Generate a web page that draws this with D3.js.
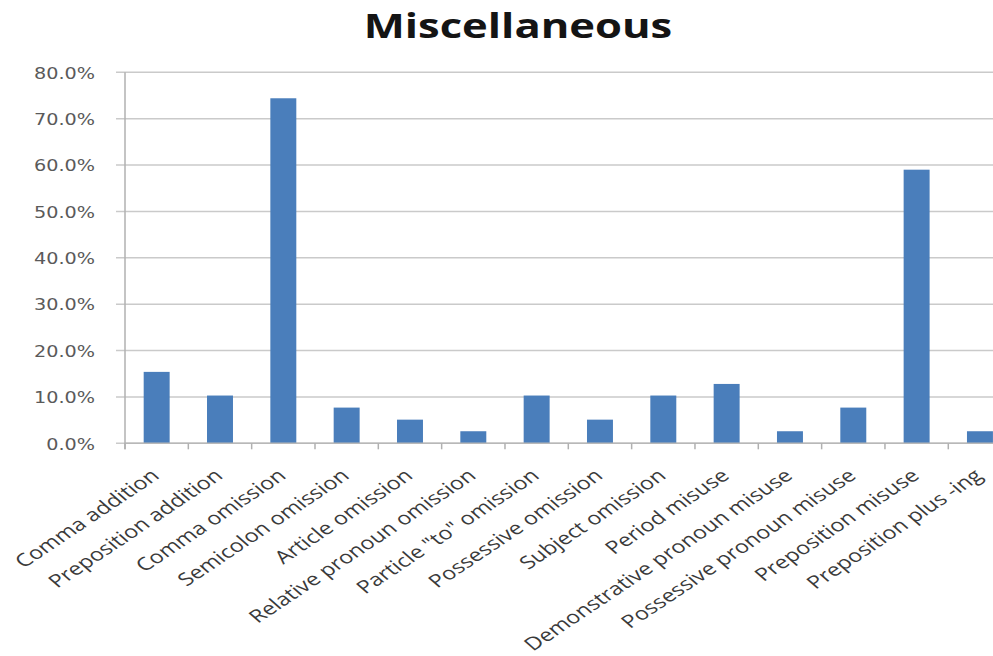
<!DOCTYPE html>
<html>
<head>
<meta charset="utf-8">
<script src="https://cdn.jsdelivr.net/npm/d3@7"></script>
<style>
  html, body { margin: 0; padding: 0; background: #ffffff; }
  svg { display: block; }
</style>
</head>
<body>
<svg id="chart" width="993" height="656"></svg>
<script>
// Error categories and their share of occurrences
const categories = [
  "Comma addition",
  "Preposition addition",
  "Comma omission",
  "Semicolon omission",
  "Article omission",
  "Relative pronoun omission",
  "Particle \"to\" omission",
  "Possessive omission",
  "Subject omission",
  "Period misuse",
  "Demonstrative pronoun misuse",
  "Possessive pronoun misuse",
  "Preposition misuse",
  "Preposition plus -ing"
];
const values = [0.154, 0.103, 0.744, 0.077, 0.051, 0.026, 0.103, 0.051, 0.103, 0.128, 0.026, 0.077, 0.590, 0.026];
const yTicks = [0, 0.1, 0.2, 0.3, 0.4, 0.5, 0.6, 0.7, 0.8];
const title = "Miscellaneous";

const W = 993, H = 656;
const plot = { left: 125, top: 72.3, bottom: 443.3, step: 63.33 };
const stretch = 1.3; // wide lettering throughout

const svg = d3.select("#chart");

const x = d3.scaleBand()
  .domain(categories)
  .range([plot.left, plot.left + plot.step * categories.length])
  .paddingInner(0.59)
  .paddingOuter(0.295);

const y = d3.scaleLinear()
  .domain([0, 0.8])
  .range([plot.bottom, plot.top]);

// Title
svg.append("text")
  .attr("transform", `translate(518,38) scale(${stretch},1)`)
  .attr("text-anchor", "middle")
  .attr("font-family", "'Open Sans', sans-serif")
  .attr("font-weight", "bold")
  .attr("font-size", 33.5)
  .attr("fill", "#141414")
  .text(title);

// Horizontal gridlines with short ticks left of the axis
svg.append("g")
  .selectAll("line")
  .data(yTicks)
  .join("line")
  .attr("x1", plot.left - 9)
  .attr("x2", W)
  .attr("y1", d => y(d))
  .attr("y2", d => y(d))
  .attr("stroke", "#cacaca")
  .attr("stroke-width", 1.5);

// Y axis labels
const yAxis = d3.axisLeft(y)
  .tickValues(yTicks)
  .tickFormat(d3.format(".1%"))
  .tickSize(0);
const gy = svg.append("g")
  .attr("transform", `translate(${plot.left},0)`)
  .call(yAxis);
gy.select(".domain").remove();
gy.selectAll("text")
  .attr("x", null)
  .attr("dy", "0.36em")
  .attr("transform", "translate(-30,0) scale(1.2,1)")
  .attr("font-family", "'DejaVu Sans', sans-serif")
  .attr("font-size", 16)
  .attr("fill", "#5a5a5a");

// Bars
svg.append("g")
  .selectAll("rect")
  .data(values)
  .join("rect")
  .attr("x", (d, i) => x(categories[i]))
  .attr("width", x.bandwidth())
  .attr("y", d => y(d))
  .attr("height", d => y(0) - y(d))
  .attr("fill", "#4a7ebb");

// Axis lines
svg.append("line")
  .attr("x1", plot.left).attr("x2", plot.left)
  .attr("y1", y(0.8)).attr("y2", y(0) + 6)
  .attr("stroke", "#b0b0b0").attr("stroke-width", 1.5);
svg.append("line")
  .attr("x1", plot.left).attr("x2", W)
  .attr("y1", y(0)).attr("y2", y(0))
  .attr("stroke", "#b8b8b8").attr("stroke-width", 1.5);

// Category boundary ticks below the axis
const step = x.step();
const boundaries = d3.range(categories.length + 1).map(i => x.range()[0] + i * step);
svg.append("g")
  .selectAll("line")
  .data(boundaries)
  .join("line")
  .attr("x1", d => d).attr("x2", d => d)
  .attr("y1", y(0)).attr("y2", y(0) + 6)
  .attr("stroke", "#b0b0b0").attr("stroke-width", 1.5);

// Category labels, angled
const xAxis = d3.axisBottom(x).tickSize(0);
const gx = svg.append("g")
  .attr("transform", `translate(0,${y(0)})`)
  .call(xAxis);
gx.select(".domain").remove();
gx.selectAll("text")
  .attr("y", null)
  .attr("dy", null)
  .attr("text-anchor", "end")
  .attr("transform", `translate(4,34) scale(${stretch},1) rotate(-41)`)
  .attr("font-family", "'Open Sans', sans-serif")
  .attr("font-size", 18)
  .attr("fill", "#3a3a3a");
</script>
</body>
</html>
